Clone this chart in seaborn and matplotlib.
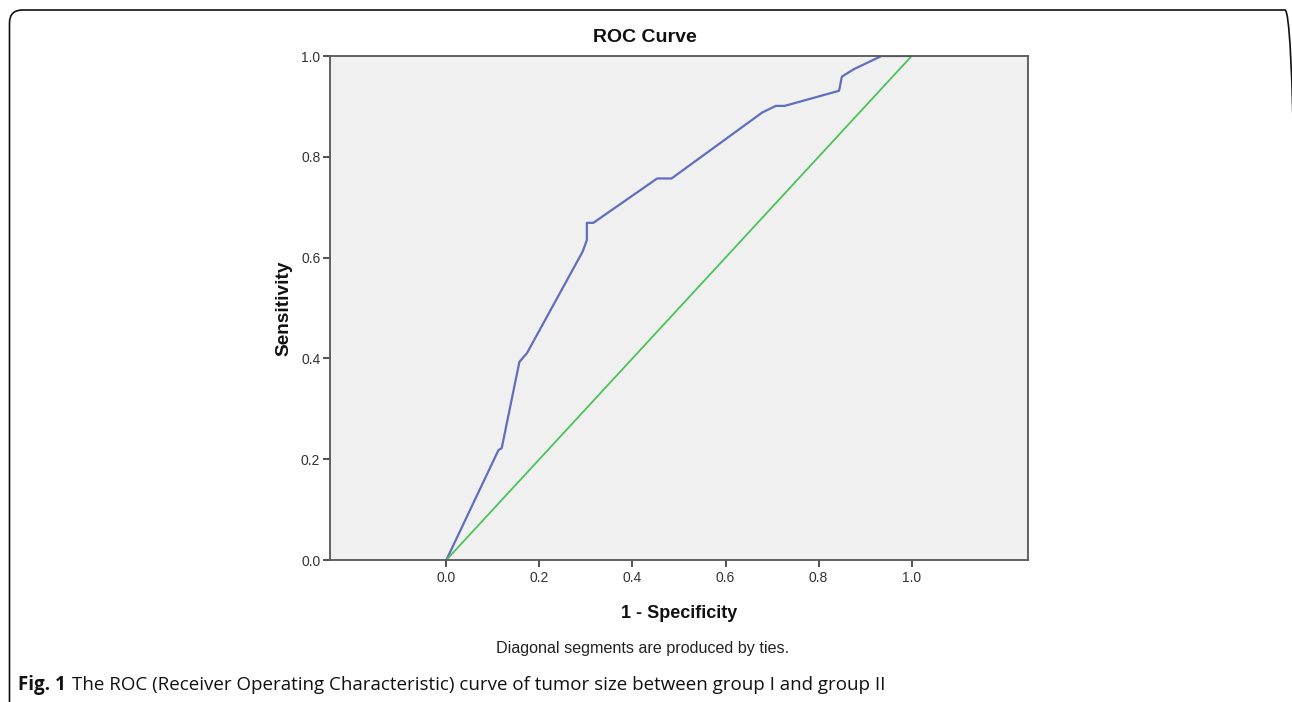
import matplotlib
matplotlib.use("Agg")
import matplotlib.pyplot as plt
import seaborn as sns
import pandas as pd
from matplotlib.patches import FancyBboxPatch

# ROC curve data
fpr = [0.0, 0.112, 0.119, 0.157, 0.170, 0.173, 0.293, 0.302, 0.302, 0.316,
       0.453, 0.484, 0.679, 0.708, 0.727, 0.844, 0.850, 0.876, 0.935, 1.0]
tpr = [0.0, 0.218, 0.222, 0.393, 0.407, 0.410, 0.612, 0.635, 0.669, 0.669,
       0.757, 0.757, 0.888, 0.901, 0.901, 0.931, 0.959, 0.974, 1.0, 1.0]
ref_x = [0.0, 1.0]
ref_y = [0.0, 1.0]
ticks = [0.0, 0.2, 0.4, 0.6, 0.8, 1.0]
tick_labels = ["0.0", "0.2", "0.4", "0.6", "0.8", "1.0"]

sns.set_theme(style="white")
plt.rcParams['font.family'] = ['Liberation Sans', 'DejaVu Sans']

W, H = 1292, 702
fig = plt.figure(figsize=(W / 100, H / 100), dpi=100)
ax = fig.add_axes([330/W, 1-560/H, (1028-330)/W, (560-56)/H])
ax.set_facecolor("#f0f0f0")

roc = pd.DataFrame({"fpr": fpr, "tpr": tpr})
ref = pd.DataFrame({"x": ref_x, "y": ref_y})
sns.lineplot(data=roc, x="fpr", y="tpr", ax=ax, color="#5f6fbd", lw=1.6,
             sort=False, estimator=None)
sns.lineplot(data=ref, x="x", y="y", ax=ax, color="#4cc25a", lw=1.3,
             sort=False, estimator=None)

ax.set_xlim(-0.25, 1.25)
ax.set_ylim(0, 1)
ax.set_xticks(ticks)
ax.set_xticklabels(tick_labels)
ax.set_yticks(ticks)
ax.set_yticklabels(tick_labels)
ax.tick_params(axis="both", direction="out", length=5, width=1.2,
               color="#333333", labelsize=10, labelcolor="#333333", pad=2,
               bottom=True, left=True)
ax.tick_params(axis="x", pad=3)
for s in ax.spines.values():
    s.set_color("#555555")
    s.set_linewidth(1.3)

fig.text(645/W, 1-37/H, "ROC Curve", ha="center", va="center",
         fontsize=14, fontweight="bold", color="#111111")
ax.set_xlabel("1 - Specificity", fontsize=13, fontweight="bold", color="#111111", labelpad=14)
ax.set_ylabel("Sensitivity", fontsize=13.7, fontweight="bold", color="#111111", labelpad=6)

fig.text(643/W, 1-648/H, "Diagonal segments are produced by ties.",
         ha="center", va="center", fontsize=11.6, color="#222222")

cap_font = ["Open Sans", "DejaVu Sans"]
t1 = fig.text(18/W, 1-685/H, "Fig. 1", ha="left", va="center", fontsize=13.5,
              fontweight="bold", family=cap_font, color="#111111")
fig.canvas.draw()
bb = t1.get_window_extent(renderer=fig.canvas.get_renderer())
fig.text((bb.x1 + 6)/W, 1-685/H,
         "The ROC (Receiver Operating Characteristic) curve of tumor size between group I and group II",
         ha="left", va="center", fontsize=13.5, family=cap_font, color="#111111")

border = FancyBboxPatch((0.095, -0.5), (1298 - 9.5)/100, (H - 10)/100 + 0.5,
                        boxstyle="round,pad=0,rounding_size=0.13",
                        transform=fig.dpi_scale_trans, fill=False,
                        edgecolor="#111111", lw=1.2, clip_on=False)
fig.patches.append(border)

fig.savefig("out.png", dpi=100)
